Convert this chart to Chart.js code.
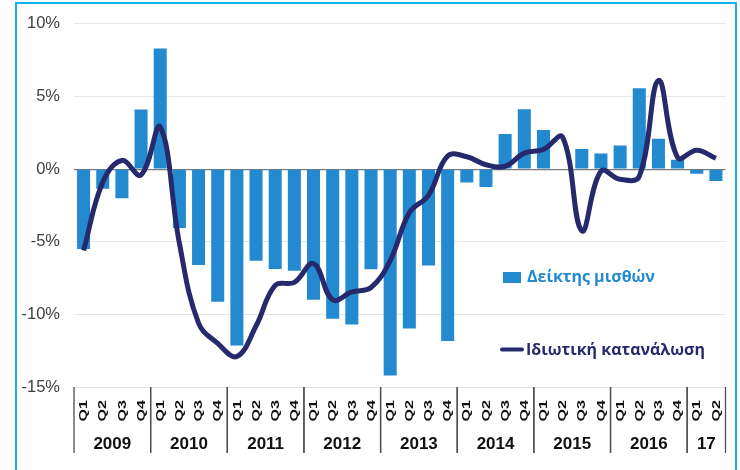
<!DOCTYPE html>
<html>
<head>
<meta charset="utf-8">
<script src="https://cdn.jsdelivr.net/npm/chart.js@4.4.1/dist/chart.umd.min.js"></script>
<style>
  body { margin: 0; background: #fff; }
  #wrap { position: relative; width: 740px; height: 470px; overflow: hidden; }
  #frame { position: absolute; left: 15px; top: 2px; width: 722px; height: 500px; border: 2px solid #14b2ec; box-sizing: border-box; }
  canvas { position: absolute; left: 0; top: 0; }
</style>
</head>
<body>
<div id="wrap">
  <div id="frame"></div>
  <canvas id="grafico" width="740" height="470"></canvas>
</div>
<script>
// Τρίμηνα 2009 Q1 - 2017 Q2
const quarters = [
  'Q1','Q2','Q3','Q4', 'Q1','Q2','Q3','Q4', 'Q1','Q2','Q3','Q4', 'Q1','Q2','Q3','Q4',
  'Q1','Q2','Q3','Q4', 'Q1','Q2','Q3','Q4', 'Q1','Q2','Q3','Q4', 'Q1','Q2','Q3','Q4',
  'Q1','Q2'
];
const years = ['2009', '2010', '2011', '2012', '2013', '2014', '2015', '2016', '17'];

// Δείκτης μισθών (% ετήσια μεταβολή)
const wages = [
  -5.5, -1.35, -2.0, 4.1,
  8.3, -4.05, -6.6, -9.13,
  -12.15, -6.3, -6.87, -7.0,
  -9.0, -10.3, -10.7, -6.9,
  -14.2, -10.98, -6.64, -11.83,
  -0.92, -1.23, 2.42, 4.13,
  2.69, -0.05, 1.39, 1.07,
  1.62, 5.57, 2.1, 0.64,
  -0.32, -0.82
];

// Ιδιωτική κατανάλωση (% ετήσια μεταβολή)
const consumption = [
  -5.6, -0.9, 0.6, -0.4,
  2.9, -5.1, -10.6, -12.0,
  -12.9, -10.8, -8.0, -7.8,
  -6.5, -9.0, -8.45, -8.15,
  -6.3, -3.0, -1.8, 0.9,
  0.85, 0.3, 0.2, 1.1,
  1.35, 2.2, -4.25, -0.15,
  -0.7, -0.5, 6.1, 0.8,
  1.3, 0.75
];

const yTicks = [-15, -10, -5, 0, 5, 10];

const BLUE = '#238acf';
const NAVY = '#262a6c';

// Τρίμηνα (κάθετα), έτη και διαχωριστικά κάτω από τον άξονα
const yearAxisPlugin = {
  id: 'yearAxis',
  afterDraw(chart) {
    const ctx = chart.ctx;
    const x = chart.scales.x;
    const area = chart.chartArea;
    const half = (x.getPixelForValue(1) - x.getPixelForValue(0)) / 2;
    ctx.save();
    ctx.fillStyle = '#111';
    ctx.font = 'bold 11.5px "Liberation Sans", Arial, sans-serif';
    ctx.textAlign = 'right';
    ctx.textBaseline = 'middle';
    quarters.forEach((q, i) => {
      ctx.save();
      ctx.translate(x.getPixelForValue(i) + 0.5, area.bottom + 13);
      ctx.rotate(-Math.PI / 2);
      ctx.scale(1.4, 1);
      ctx.fillText(q, 0, 0);
      ctx.restore();
    });

    const starts = [];
    quarters.forEach((q, i) => { if (q === 'Q1') starts.push(i); });
    ctx.strokeStyle = '#4d4d4d';
    ctx.lineWidth = 1.3;
    ctx.font = 'bold 17px "Liberation Sans", Arial, sans-serif';
    ctx.textAlign = 'center';
    starts.forEach((s, k) => {
      const e = k + 1 < starts.length ? starts[k + 1] - 1 : quarters.length - 1;
      const x0 = x.getPixelForValue(s) - half;
      const x1 = x.getPixelForValue(e) + half;
      [x0, x1].forEach(px => {
        ctx.beginPath();
        ctx.moveTo(px, area.bottom);
        ctx.lineTo(px, 453);
        ctx.stroke();
      });
      ctx.fillText(years[k], (x0 + x1) / 2, 444);
    });
    ctx.restore();
  }
};

// Υπόμνημα μέσα στο γράφημα
const legendPlugin = {
  id: 'innerLegend',
  afterDraw(chart) {
    const ctx = chart.ctx;
    ctx.save();
    ctx.font = 'bold 16px "Open Sans", sans-serif';
    ctx.textBaseline = 'middle';
    ctx.fillStyle = BLUE;
    ctx.fillRect(503, 272, 18, 11);
    ctx.fillText(chart.data.datasets[1].label, 527, 277);
    ctx.strokeStyle = NAVY;
    ctx.lineWidth = 4;
    ctx.lineCap = 'round';
    ctx.beginPath();
    ctx.moveTo(502, 349.5);
    ctx.lineTo(522, 349.5);
    ctx.stroke();
    ctx.fillStyle = NAVY;
    ctx.fillText(chart.data.datasets[0].label, 526, 350);
    ctx.restore();
  }
};

new Chart(document.getElementById('grafico'), {
  type: 'bar',
  data: {
    labels: quarters,
    datasets: [{
      type: 'line',
      label: 'Ιδιωτική κατανάλωση',
      data: consumption,
      borderColor: NAVY,
      borderWidth: 5,
      tension: 0.4,
      pointRadius: 0,
      order: 0
    }, {
      label: 'Δείκτης μισθών',
      data: wages,
      backgroundColor: BLUE,
      barPercentage: 0.68,
      categoryPercentage: 1,
      order: 1
    }]
  },
  options: {
    responsive: false,
    animation: false,
    layout: { padding: { top: 22, right: 14.5, left: 0, bottom: 0 } },
    plugins: { legend: { display: false }, tooltip: { enabled: false } },
    scales: {
      x: {
        grid: { display: false },
        border: { display: false },
        ticks: { display: false },
        afterFit: s => { s.height = 83; }
      },
      y: {
        min: -15,
        max: 10,
        afterBuildTicks: s => { s.ticks = yTicks.map(v => ({ value: v })); },
        grid: {
          drawTicks: false,
          color: c => c.tick.value === 0 ? '#7a7a7a' : '#e6e6e6',
          lineWidth: c => c.tick.value === 0 ? 1.2 : 1
        },
        border: { display: false },
        ticks: {
          padding: 14,
          color: '#404040',
          font: { family: '"Liberation Sans", Arial, sans-serif', size: 16.5 },
          callback: v => v + '%'
        },
        afterFit: s => { s.width = 74; }
      }
    }
  },
  plugins: [yearAxisPlugin, legendPlugin]
});
</script>
</body>
</html>
